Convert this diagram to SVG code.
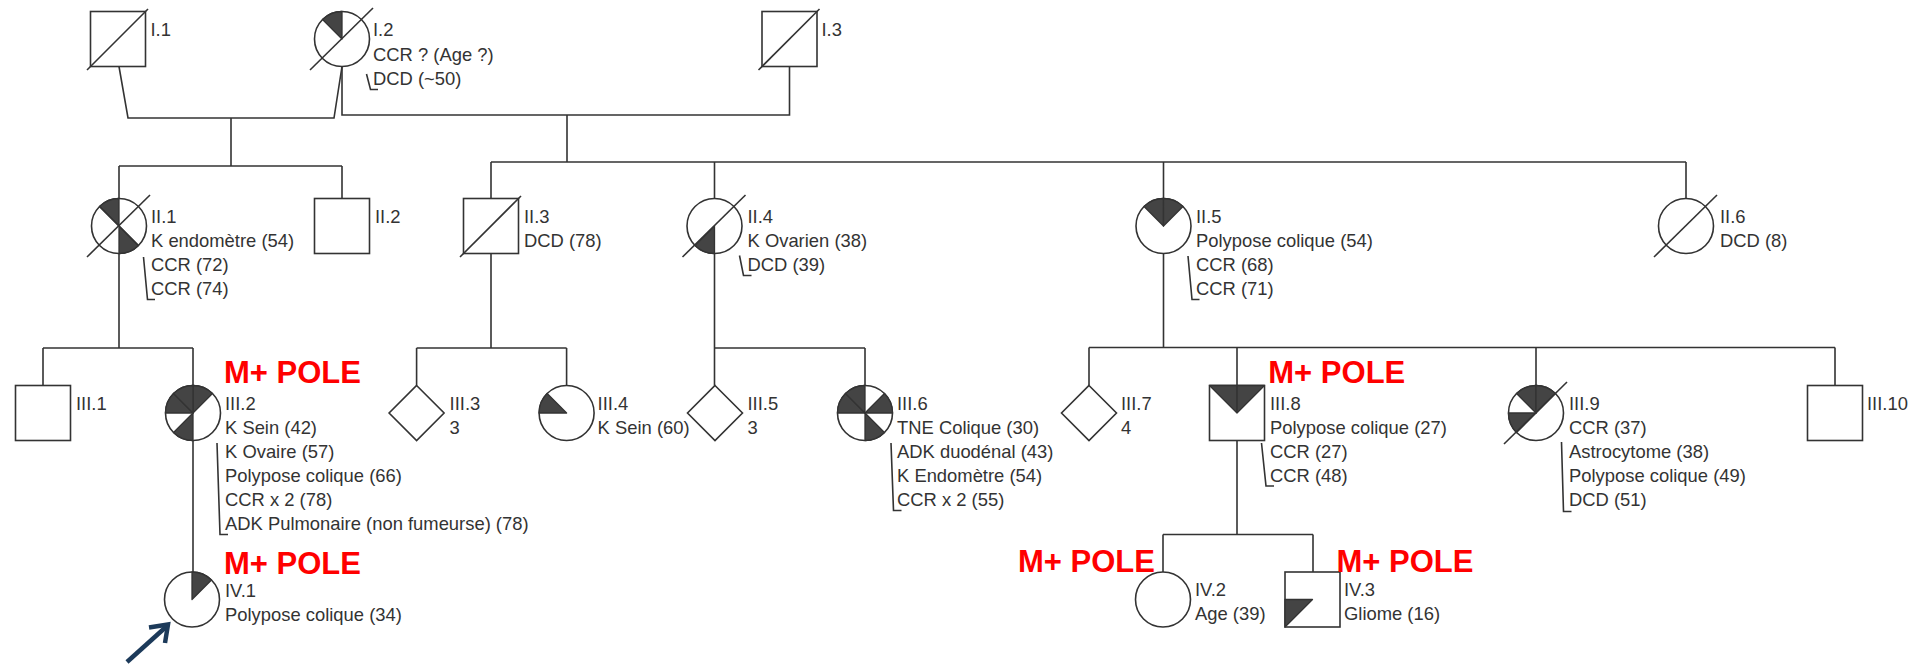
<svg xmlns="http://www.w3.org/2000/svg" xmlns:xlink="http://www.w3.org/1999/xlink" width="1930" height="664" viewBox="0 0 1930 664">
<style>
.ln{stroke:#333;stroke-width:1.6;fill:none}
.sym{fill:#fff;stroke:#333;stroke-width:1.6}
.sh{fill:#444;stroke:#333;stroke-width:1.3;stroke-linejoin:round}
.t{font-family:"Liberation Sans",Arial,sans-serif;font-size:18.4px;fill:#333}
.m{font-family:"Liberation Sans",Arial,sans-serif;font-weight:bold;font-size:31px;fill:#ff0000}
</style>
<defs>
<circle id="circ" r="27.5" class="sym"/>
<rect id="sq" x="-27.5" y="-27.5" width="55" height="55" class="sym"/>
<polygon id="dia" points="0,-27.5 27.5,0 0,27.5 -27.5,0" class="sym"/>
<path id="s315" d="M0,0 L-19.45,-19.45 A27.5,27.5 0 0 1 0,-27.5 Z" class="sh"/>
<path id="s0" d="M0,0 L0,-27.5 A27.5,27.5 0 0 1 19.45,-19.45 Z" class="sh"/>
<path id="s45" d="M0,0 L19.45,-19.45 A27.5,27.5 0 0 1 27.5,0 Z" class="sh"/>
<path id="s135" d="M0,0 L19.45,19.45 A27.5,27.5 0 0 1 0,27.5 Z" class="sh"/>
<path id="s180" d="M0,0 L0,27.5 A27.5,27.5 0 0 1 -19.45,19.45 Z" class="sh"/>
<path id="s225" d="M0,0 L-19.45,19.45 A27.5,27.5 0 0 1 -27.5,0 Z" class="sh"/>
<path id="s270" d="M0,0 L-27.5,0 A27.5,27.5 0 0 1 -19.45,-19.45 Z" class="sh"/>
<line id="slc" x1="-32" y1="31" x2="31" y2="-31" class="ln"/>
<line id="sls" x1="-31" y1="31" x2="30" y2="-30" class="ln"/>
</defs>
<rect width="1930" height="664" fill="#fff"/>

<g id="connectors">
<path class="ln" d="M119,66.5 L128,118 H334 L342,66.5"/>
<path class="ln" d="M231,118 V166 M119,166 H342 M119,166 V198.5 M342,166 V198.5"/>
<path class="ln" d="M342,66.5 V115 H789.5 V66.5"/>
<path class="ln" d="M567,115 V162 M491,162 H1686 M491,162 V198.5 M714.5,162 V198.5 M1163.5,162 V198.5 M1686,162 V198.5"/>
<path class="ln" d="M119,253.5 V348 M43,348 H193 M43,348 V385.5 M193,348 V385.5"/>
<path class="ln" d="M491,253.5 V348 M416.6,348 H566.6 M416.6,348 V385.5 M566.6,348 V385.5"/>
<path class="ln" d="M714.5,253.5 V348 H865 M714.5,348 V385.5 M865,348 V385.5"/>
<path class="ln" d="M1163.5,253.5 V347.5 M1089,347.5 H1835 M1089,347.5 V385.5 M1237,347.5 V385.5 M1536,347.5 V385.5 M1835,347.5 V385.5"/>
<path class="ln" d="M193,440.5 V572"/>
<path class="ln" d="M1237,440.5 V534.5 M1163,534.5 H1313 M1163,534.5 V572 M1313,534.5 V572"/>
</g>

<g id="I-1" transform="translate(118,39)">
<use href="#sq"/><use href="#sls"/>
<text class="t" x="32.5" y="-3">I.1</text>
</g>
<g id="I-2" transform="translate(342,39)">
<use href="#circ"/><use href="#s315"/><use href="#slc"/>
<text class="t" x="31" y="-3">I.2</text>
<text class="t" x="31" y="22">CCR ? (Age ?)</text>
<text class="t" x="31" y="46">DCD (~50)</text>
<path class="ln" d="M24.5,35 L28.5,50.5 H36" stroke-width="1.2"/>
</g>
<g id="I-3" transform="translate(789.5,39)">
<use href="#sq"/><use href="#sls"/>
<text class="t" x="32" y="-3">I.3</text>
</g>

<g id="II-1" transform="translate(119,226)">
<use href="#circ"/><use href="#s315"/><use href="#s135"/>
<line x1="-19.45" y1="-19.45" x2="19.45" y2="19.45" class="ln"/>
<use href="#slc"/>
<text class="t" x="32" y="-3">II.1</text>
<text class="t" x="32" y="21">K endomètre (54)</text>
<text class="t" x="32" y="45">CCR (72)</text>
<text class="t" x="32" y="69">CCR (74)</text>
<path class="ln" d="M24.5,31 L28.5,73.5 H36" stroke-width="1.2"/>
</g>
<g id="II-2" transform="translate(342,226)">
<use href="#sq"/>
<text class="t" x="33" y="-3">II.2</text>
</g>
<g id="II-3" transform="translate(491,226)">
<use href="#sq"/><use href="#sls"/>
<text class="t" x="33" y="-3">II.3</text>
<text class="t" x="33" y="21">DCD (78)</text>
</g>
<g id="II-4" transform="translate(714.5,226)">
<use href="#circ"/><use href="#s180"/><use href="#slc"/>
<text class="t" x="33" y="-3">II.4</text>
<text class="t" x="33" y="21">K Ovarien (38)</text>
<text class="t" x="33" y="45">DCD (39)</text>
<path class="ln" d="M25,29.5 L29,49.5 H37" stroke-width="1.2"/>
</g>
<g id="II-5" transform="translate(1163.5,226)">
<use href="#circ"/><use href="#s315"/><use href="#s0"/>
<text class="t" x="32.5" y="-3">II.5</text>
<text class="t" x="32.5" y="21">Polypose colique (54)</text>
<text class="t" x="32.5" y="45">CCR (68)</text>
<text class="t" x="32.5" y="69">CCR (71)</text>
<path class="ln" d="M24.5,30 L28.5,73.5 H36" stroke-width="1.2"/>
</g>
<g id="II-6" transform="translate(1686,226)">
<use href="#circ"/><use href="#slc"/>
<text class="t" x="34" y="-3">II.6</text>
<text class="t" x="34" y="21">DCD (8)</text>
</g>

<g id="III-1" transform="translate(43,413)">
<use href="#sq"/>
<text class="t" x="33" y="-3">III.1</text>
</g>
<g id="III-2" transform="translate(193,413)">
<use href="#circ"/><use href="#s0"/><use href="#s180"/><use href="#s270"/><use href="#s315"/>
<text class="m" x="31" y="-30.5">M+ POLE</text>
<text class="t" x="32" y="-3">III.2</text>
<text class="t" x="32" y="21">K Sein (42)</text>
<text class="t" x="32" y="45">K Ovaire (57)</text>
<text class="t" x="32" y="69">Polypose colique (66)</text>
<text class="t" x="32" y="93">CCR x 2 (78)</text>
<text class="t" x="32" y="117">ADK Pulmonaire (non fumeurse) (78)</text>
<path class="ln" d="M24,30 L27,121.5 H35" stroke-width="1.2"/>
</g>
<g id="III-3" transform="translate(416.6,413)">
<use href="#dia"/>
<text class="t" x="33" y="-3">III.3</text>
<text class="t" x="33" y="21">3</text>
</g>
<g id="III-4" transform="translate(566.6,413)">
<use href="#circ"/><use href="#s270"/>
<text class="t" x="31" y="-3">III.4</text>
<text class="t" x="31" y="21">K Sein (60)</text>
</g>
<g id="III-5" transform="translate(715,413)">
<use href="#dia"/>
<text class="t" x="32.5" y="-3">III.5</text>
<text class="t" x="32.5" y="21">3</text>
</g>
<g id="III-6" transform="translate(865,413)">
<use href="#circ"/><use href="#s270"/><use href="#s315"/><use href="#s45"/><use href="#s135"/>
<text class="t" x="32" y="-3">III.6</text>
<text class="t" x="32" y="21">TNE Colique (30)</text>
<text class="t" x="32" y="45">ADK duodénal (43)</text>
<text class="t" x="32" y="69">K Endomètre (54)</text>
<text class="t" x="32" y="93">CCR x 2 (55)</text>
<path class="ln" d="M26,30 L28.5,97.5 H36.5" stroke-width="1.2"/>
</g>
<g id="III-7" transform="translate(1089,413)">
<use href="#dia"/>
<text class="t" x="32" y="-3">III.7</text>
<text class="t" x="32" y="21">4</text>
</g>
<g id="III-8" transform="translate(1237,413)">
<use href="#sq"/>
<path d="M0,0 L-27.5,-27.5 H27.5 Z" class="sh"/>
<line x1="0" y1="-27.5" x2="0" y2="0" class="ln"/>
<text class="m" x="31.3" y="-30.5">M+ POLE</text>
<text class="t" x="33" y="-3">III.8</text>
<text class="t" x="33" y="21">Polypose colique (27)</text>
<text class="t" x="33" y="45">CCR (27)</text>
<text class="t" x="33" y="69">CCR (48)</text>
<path class="ln" d="M24.5,30 L29,73 H37" stroke-width="1.2"/>
</g>
<g id="III-9" transform="translate(1536,413)">
<use href="#circ"/><use href="#s315"/><use href="#s0"/><use href="#s225"/><use href="#slc"/>
<text class="t" x="33" y="-3">III.9</text>
<text class="t" x="33" y="21">CCR (37)</text>
<text class="t" x="33" y="45">Astrocytome (38)</text>
<text class="t" x="33" y="69">Polypose colique (49)</text>
<text class="t" x="33" y="93">DCD (51)</text>
<path class="ln" d="M25.5,29 L27.5,98.5 H35.5" stroke-width="1.2"/>
</g>
<g id="III-10" transform="translate(1835,413)">
<use href="#sq"/>
<text class="t" x="32" y="-3">III.10</text>
</g>

<g id="IV-1" transform="translate(192,599.5)">
<use href="#circ"/><use href="#s0"/>
<text class="m" x="32" y="-25.5">M+ POLE</text>
<text class="t" x="33" y="-3">IV.1</text>
<text class="t" x="33" y="21">Polypose colique (34)</text>
</g>
<g id="IV-2" transform="translate(1163,599.5)">
<use href="#circ"/>
<text class="m" x="-145" y="-27.5">M+ POLE</text>
<text class="t" x="32" y="-3.5">IV.2</text>
<text class="t" x="32" y="20.5">Age (39)</text>
</g>
<g id="IV-3" transform="translate(1312.5,599.5)">
<use href="#sq"/>
<path d="M0,0 L-27.5,0 V27.5 Z" class="sh"/>
<text class="m" x="24" y="-27.5">M+ POLE</text>
<text class="t" x="31.5" y="-3.5">IV.3</text>
<text class="t" x="31.5" y="20.5">Gliome (16)</text>
</g>

<g id="proband-arrow" stroke="#1c3a5a" stroke-width="4.5" fill="none" stroke-linejoin="miter">
<path d="M127,662 L167,626"/>
<path d="M149,627.5 L168,624.5 L165,643"/>
</g>
</svg>
